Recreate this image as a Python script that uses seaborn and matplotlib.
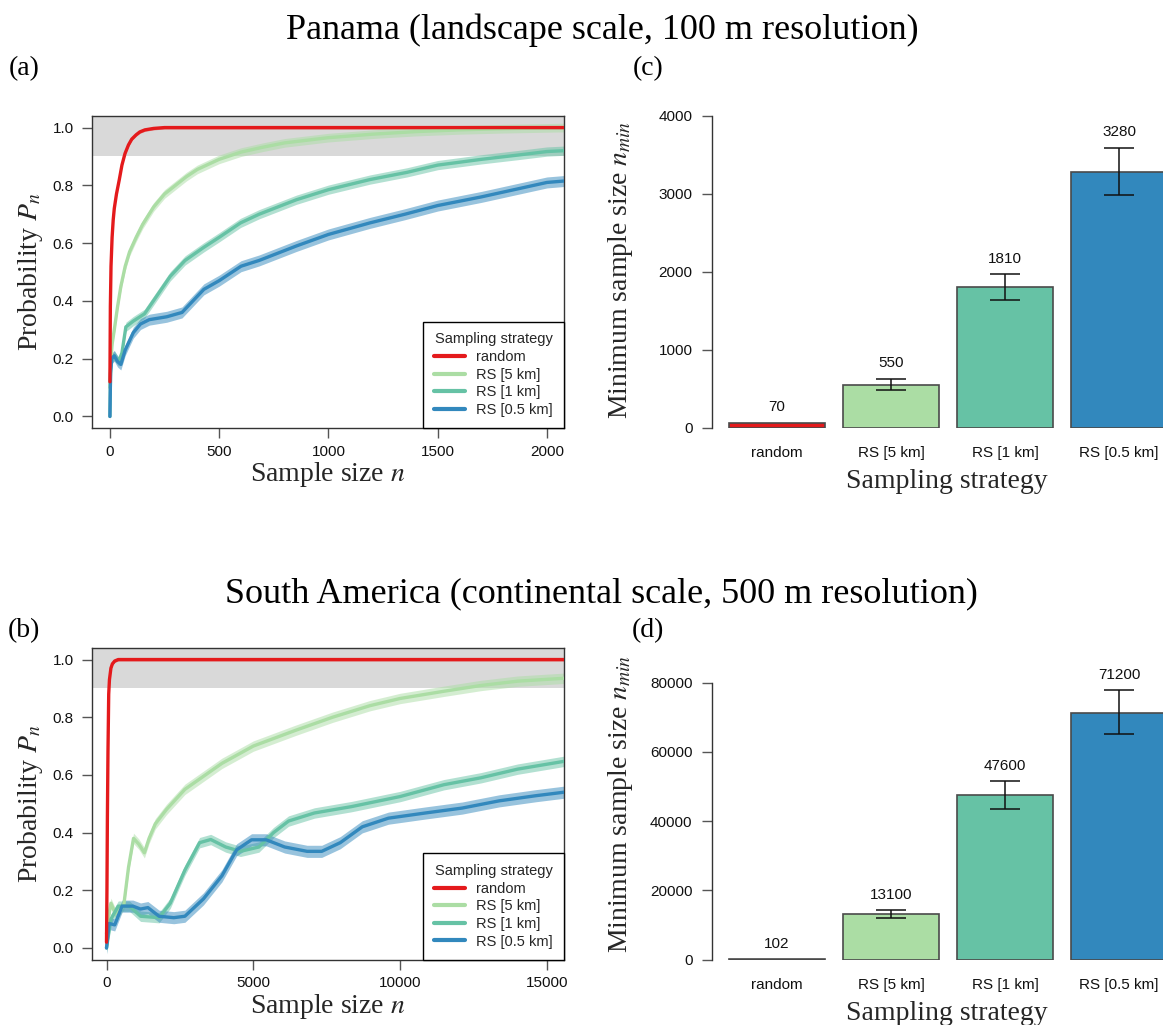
import numpy as np
import pandas as pd
import matplotlib
matplotlib.use("Agg")
import matplotlib.pyplot as plt
import seaborn as sns
from matplotlib.lines import Line2D

sns.set_theme(style="white")
plt.rcParams["font.family"] = ["Liberation Sans", "DejaVu Sans"]
plt.rcParams["mathtext.fontset"] = "stix"

SERIF = ["Liberation Serif", "DejaVu Serif"]

# ---------------- data ----------------
strategies = ["random", "RS [5 km]", "RS [1 km]", "RS [0.5 km]"]
colors = ["#E41A1C", "#ABDDA4", "#66C2A5", "#3288BD"]

# Panel (a): Panama, probability curves
a_random_n = [0, 2, 5, 10, 15, 20, 30, 43, 55, 69, 85, 100, 120, 137, 160, 200, 250, 2080]
a_random_p = [0.12, 0.38, 0.52, 0.62, 0.68, 0.72, 0.77, 0.82, 0.87, 0.91, 0.94, 0.96, 0.975, 0.985, 0.992, 0.997, 1.0, 1.0]
a_rs5_n = [0, 5, 10, 20, 35, 50, 70, 90, 120, 150, 200, 250, 300, 350, 400, 500, 600, 700, 800, 1000, 1200, 1400, 1600, 1800, 2080]
a_rs5_p = [0.10, 0.20, 0.25, 0.30, 0.38, 0.45, 0.52, 0.57, 0.62, 0.665, 0.725, 0.77, 0.80, 0.83, 0.855, 0.89, 0.915, 0.932, 0.947, 0.965, 0.977, 0.986, 0.992, 0.996, 1.0]
a_rs1_n = [0, 3, 8, 20, 40, 55, 73, 107, 158, 208, 276, 344, 429, 500, 598, 683, 853, 1000, 1190, 1360, 1500, 1700, 1870, 2000, 2080]
a_rs1_p = [0.0, 0.16, 0.20, 0.21, 0.19, 0.22, 0.31, 0.33, 0.355, 0.41, 0.485, 0.54, 0.585, 0.62, 0.67, 0.70, 0.75, 0.785, 0.82, 0.845, 0.87, 0.89, 0.905, 0.917, 0.92]
a_rs05_n = [0, 3, 8, 20, 35, 50, 70, 107, 140, 180, 260, 330, 380, 430, 500, 600, 683, 853, 1000, 1190, 1350, 1500, 1700, 1850, 2000, 2080]
a_rs05_p = [0.0, 0.15, 0.20, 0.21, 0.19, 0.18, 0.23, 0.29, 0.32, 0.335, 0.345, 0.36, 0.40, 0.44, 0.47, 0.52, 0.54, 0.59, 0.63, 0.67, 0.70, 0.73, 0.76, 0.785, 0.81, 0.815]
a_band = [0.005, 0.015, 0.016, 0.019]

# Panel (b): South America, probability curves
b_random_n = [0, 15, 30, 50, 75, 100, 150, 200, 280, 400, 15580]
b_random_p = [0.02, 0.20, 0.45, 0.68, 0.88, 0.93, 0.97, 0.985, 0.995, 1.0, 1.0]
b_rs5_n = [0, 60, 150, 300, 450, 590, 750, 920, 1100, 1290, 1450, 1660, 2040, 2670, 3300, 3930, 5000, 6450, 7700, 8970, 10000, 11490, 12750, 14000, 15580]
b_rs5_p = [0.05, 0.10, 0.155, 0.12, 0.13, 0.15, 0.28, 0.38, 0.36, 0.33, 0.38, 0.43, 0.48, 0.55, 0.595, 0.64, 0.70, 0.755, 0.80, 0.84, 0.865, 0.89, 0.91, 0.925, 0.935]
b_rs1_n = [0, 150, 400, 780, 1160, 1790, 2170, 2670, 3170, 3550, 4060, 4560, 5190, 5690, 6200, 7080, 8340, 10000, 11490, 12750, 14000, 15580]
b_rs1_p = [0.0, 0.10, 0.145, 0.145, 0.11, 0.105, 0.155, 0.27, 0.365, 0.376, 0.35, 0.335, 0.35, 0.40, 0.44, 0.468, 0.49, 0.525, 0.566, 0.59, 0.62, 0.647]
b_rs05_n = [0, 90, 280, 530, 900, 1160, 1410, 1790, 2290, 2670, 3300, 3930, 4430, 4940, 5440, 6070, 6830, 7330, 7960, 8710, 9600, 10860, 12110, 13370, 14630, 15580]
b_rs05_p = [0.0, 0.085, 0.08, 0.145, 0.145, 0.135, 0.14, 0.11, 0.105, 0.11, 0.17, 0.25, 0.34, 0.375, 0.375, 0.35, 0.335, 0.335, 0.365, 0.42, 0.45, 0.468, 0.485, 0.51, 0.528, 0.54]
b_band = [0.005, 0.018, 0.018, 0.021]

# Panel (c): Panama minimum sample size
c_values = [70, 550, 1810, 3280]
c_lower = [70, 492, 1647, 2982]
c_upper = [70, 633, 1968, 3594]

# Panel (d): South America minimum sample size
d_values = [102, 13100, 47600, 71200]
d_lower = [102, 12048, 43373, 65253]
d_upper = [102, 14265, 51566, 77783]

# ---------------- layout ----------------
W, H = 1163, 1025
fig = plt.figure(figsize=(W / 100, H / 100), dpi=100)
fig.patch.set_facecolor("white")


def rect(left, top, w, h):
    return [left / W, 1 - (top + h) / H, w / W, h / H]


palette = dict(zip(strategies, colors))
EDGE = "#333333"


def curve_panel(ax, series, bands, xlim, xticks):
    frames = []
    for s, (n, p) in zip(strategies, series):
        frames.append(pd.DataFrame({"n": n, "p": p, "strategy": s}))
    df = pd.concat(frames, ignore_index=True)
    ax.axhspan(0.9, 1.2, color="#D9D9D9", lw=0, zorder=0)
    for (n, p), w, c in zip(series, bands, colors):
        p = np.asarray(p, float)
        ax.fill_between(n, p - w, p + w, color=c, alpha=0.5, lw=0, zorder=1)
    sns.lineplot(data=df, x="n", y="p", hue="strategy", hue_order=strategies,
                 palette=palette, lw=2.4, legend=False, ax=ax,
                 errorbar=None, estimator=None, sort=False)
    for line, z in zip(ax.lines, [5, 3, 3.1, 3.2]):
        line.set_zorder(z)
    ax.set_xlim(*xlim)
    ax.set_ylim(-0.04, 1.04)
    ax.set_xticks(xticks)
    ax.set_yticks([0, 0.2, 0.4, 0.6, 0.8, 1.0])
    ax.set_yticklabels(["0.0", "0.2", "0.4", "0.6", "0.8", "1.0"])
    for sp in ax.spines.values():
        sp.set_visible(True)
        sp.set_color(EDGE)
        sp.set_linewidth(1.0)
    ax.tick_params(axis="both", direction="out", length=7, width=1, color="#555555",
                   labelsize=11, bottom=True, left=True, labelcolor="#111111")
    ax.tick_params(axis="x", pad=5)
    ax.tick_params(axis="y", pad=6)
    handles = [Line2D([0], [0], color=c, lw=3) for c in colors]
    leg = ax.legend(handles, strategies, title="Sampling strategy", loc="lower right",
                    frameon=True, fancybox=False, edgecolor="black", framealpha=1,
                    borderaxespad=0, fontsize=10.5, title_fontsize=10.5, handlelength=2.1,
                    handletextpad=0.8, labelspacing=0.25, borderpad=0.75)
    leg.get_frame().set_linewidth(1.0)
    leg.set_zorder(10)
    ax.set_xlabel("")
    ax.set_ylabel("")


def bar_panel(ax, values, lower, upper, ylim, yticks):
    df = pd.DataFrame({"strategy": strategies, "value": values})
    sns.barplot(data=df, x="strategy", y="value", hue="strategy", order=strategies,
                hue_order=strategies, palette=palette, width=0.84, saturation=1,
                edgecolor="#4a4a4a", linewidth=1.2, legend=False, ax=ax, errorbar=None)
    idx = [i for i in range(len(values)) if upper[i] > lower[i]]
    y = np.array(values, float)[idx]
    lo = y - np.array(lower, float)[idx]
    hi = np.array(upper, float)[idx] - y
    ax.errorbar(idx, y, yerr=[lo, hi], fmt="none", ecolor="#111111",
                elinewidth=1.1, capsize=10.5, capthick=1.1, zorder=5)
    for i, v in enumerate(values):
        ax.annotate(f"{v}", xy=(i, upper[i]), xytext=(0, 11), textcoords="offset points",
                    ha="center", va="center", fontsize=11, color="#111111")
    ax.set_xlim(-0.57, 3.57)
    ax.set_ylim(*ylim)
    ax.set_yticks(yticks)
    for k in ["top", "right", "bottom"]:
        ax.spines[k].set_visible(False)
    ax.spines["left"].set_visible(True)
    ax.spines["left"].set_color(EDGE)
    ax.spines["left"].set_linewidth(1.0)
    ax.spines["left"].set_bounds(yticks[0], yticks[-1])
    ax.tick_params(axis="y", direction="out", length=7, width=1, color="#555555",
                   labelsize=11, left=True, pad=7, labelcolor="#111111")
    ax.tick_params(axis="x", length=0, labelsize=11, pad=13, labelcolor="#111111")
    ax.set_xlabel("")
    ax.set_ylabel("")


ax_a = fig.add_axes(rect(92, 116, 472, 312))
ax_b = fig.add_axes(rect(92, 648, 472, 311.5))
ax_c = fig.add_axes(rect(712, 116, 472, 312))
ax_d = fig.add_axes(rect(712, 648, 472, 311.5))

curve_panel(ax_a, [(a_random_n, a_random_p), (a_rs5_n, a_rs5_p), (a_rs1_n, a_rs1_p),
                   (a_rs05_n, a_rs05_p)], a_band, (-82, 2078), [0, 500, 1000, 1500, 2000])
curve_panel(ax_b, [(b_random_n, b_random_p), (b_rs5_n, b_rs5_p), (b_rs1_n, b_rs1_p),
                   (b_rs05_n, b_rs05_p)], b_band, (-494, 15580), [0, 5000, 10000, 15000])
bar_panel(ax_c, c_values, c_lower, c_upper, (0, 4000), [0, 1000, 2000, 3000, 4000])
bar_panel(ax_d, d_values, d_lower, d_upper, (0, 90000), [0, 20000, 40000, 60000, 80000])

# axis labels
LBL = 20
for ax, top_base in [(ax_a, 481), (ax_b, 1013)]:
    ax.set_xlabel("Sample size $n$", fontsize=LBL, family=SERIF, va="baseline")
    ax.xaxis.set_label_coords(328 / W, 1 - top_base / H, transform=fig.transFigure)
for ax, cy in [(ax_a, 272), (ax_b, 804)]:
    ax.set_ylabel("Probability $P_n$", fontsize=LBL, family=SERIF, va="baseline")
    ax.yaxis.set_label_coords(37 / W, 1 - cy / H, transform=fig.transFigure)
for ax, top_base in [(ax_c, 488), (ax_d, 1020)]:
    ax.set_xlabel("Sampling strategy", fontsize=LBL, family=SERIF, va="baseline")
    ax.xaxis.set_label_coords(947 / W, 1 - top_base / H, transform=fig.transFigure)
for ax, cy in [(ax_c, 270), (ax_d, 804)]:
    ax.set_ylabel("Minimum sample size $n_{min}$", fontsize=LBL, family=SERIF, va="baseline")
    ax.yaxis.set_label_coords(627 / W, 1 - cy / H, transform=fig.transFigure)

# titles and panel letters
fig.text(602 / W, 1 - 39 / H, "Panama (landscape scale, 100 m resolution)",
         ha="center", va="baseline", fontsize=26, family=SERIF, color="black")
fig.text(601 / W, 1 - 602 / H, "South America (continental scale, 500 m resolution)",
         ha="center", va="baseline", fontsize=26, family=SERIF, color="black")
for lab, x, y in [("(a)", 24, 69), ("(c)", 648, 69), ("(b)", 24, 631), ("(d)", 648, 631)]:
    fig.text(x / W, 1 - y / H, lab, ha="center", va="center", fontsize=20,
             family=SERIF, color="black")

fig.savefig("out.png", dpi=100, facecolor="white")
